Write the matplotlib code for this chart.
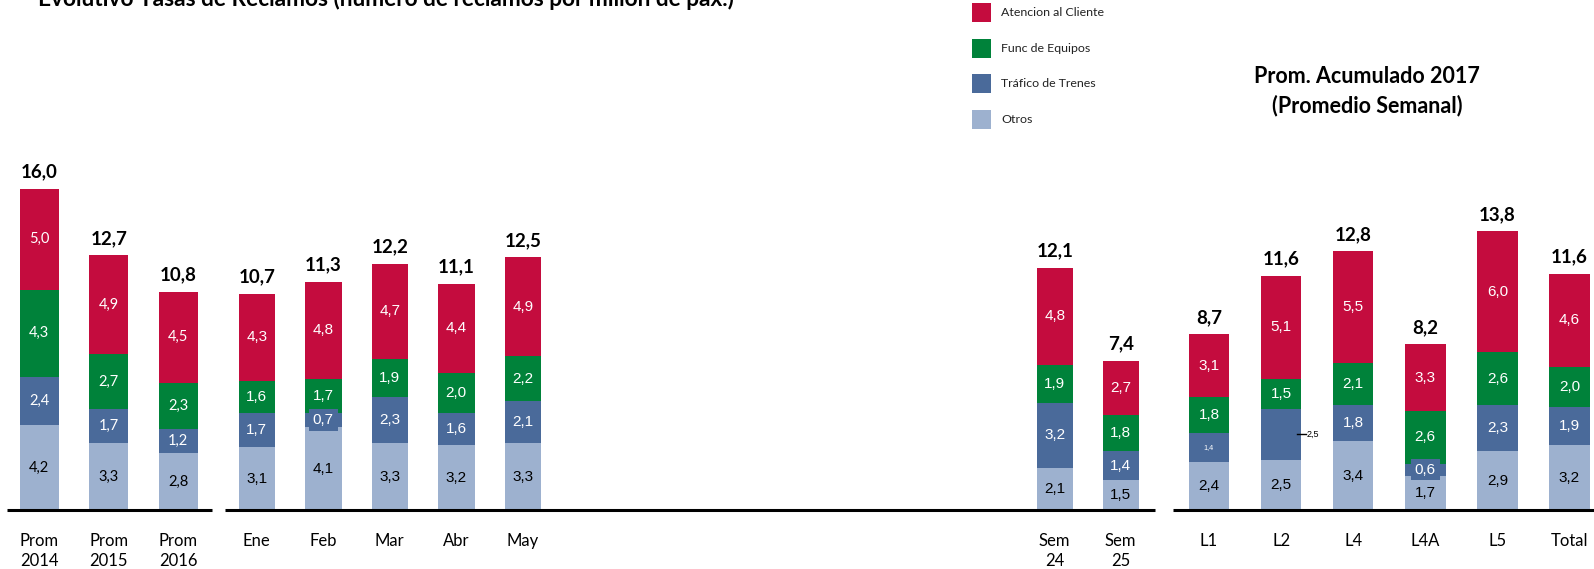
import matplotlib
matplotlib.use("Agg")
import matplotlib.pyplot as plt
from matplotlib.patches import Rectangle

# ---------------- data ----------------
categories = ["Prom\n2014", "Prom\n2015", "Prom\n2016", "Ene", "Feb", "Mar", "Abr", "May",
              "Sem\n24", "Sem\n25", "L1", "L2", "L4", "L4A", "L5", "Total"]
otros = [4.2, 3.3, 2.8, 3.1, 4.1, 3.3, 3.2, 3.3, 2.1, 1.5, 2.4, 2.5, 3.4, 1.7, 2.9, 3.2]
trafico = [2.4, 1.7, 1.2, 1.7, 0.7, 2.3, 1.6, 2.1, 3.2, 1.4, 1.4, 2.5, 1.8, 0.6, 2.3, 1.9]
func_equipos = [4.3, 2.7, 2.3, 1.6, 1.7, 1.9, 2.0, 2.2, 1.9, 1.8, 1.8, 1.5, 2.1, 2.6, 2.6, 2.0]
atencion = [5.0, 4.9, 4.5, 4.3, 4.8, 4.7, 4.4, 4.9, 4.8, 2.7, 3.1, 5.1, 5.5, 3.3, 6.0, 4.6]
totals = [16.0, 12.7, 10.8, 10.7, 11.3, 12.2, 11.1, 12.5, 12.1, 7.4, 8.7, 11.6, 12.8, 8.2, 13.8, 11.6]
series_names = ["Atencion al Cliente", "Func de Equipos", "Tráfico de Trenes", "Otros"]
title = "Evolutivo Tasas de Reclamos (número de reclamos por millón de pax.)"
subtitle = "Prom. Acumulado 2017\n(Promedio Semanal)"

# ---------------- layout ----------------
W, H = 1594, 569
BASE = 510.0      # pixel row of y=0
SCALE = 20.2      # pixels per unit
C_RED = "#C40C3E"
C_GREEN = "#00823A"
C_BLUE = "#4A6A9A"
C_LIGHT = "#9DB1CF"

# groups: (first index, count, first center px, spacing px, bar width px)
groups = [(0, 3, 39.3, 69.5, 39), (3, 5, 256.8, 66.5, 36.5),
          (8, 2, 1054.7, 66.0, 36), (10, 6, 1209.0, 72.1, 40.5)]
xpos = [0.0] * len(categories)
widths = [0.0] * len(categories)
for start, n, x0, dx, w in groups:
    for k in range(n):
        xpos[start + k] = x0 + k * dx
        widths[start + k] = w

def Y(yp):
    return (BASE - yp) / SCALE

fig = plt.figure(figsize=(W / 100, H / 100), dpi=100)
ax = fig.add_axes([0, 0, 1, 1])
ax.set_xlim(0, W)
ax.set_ylim(Y(H), Y(0))
ax.axis("off")

stack = [otros, trafico, func_equipos, atencion]
colors = [C_LIGHT, C_BLUE, C_GREEN, C_RED]
txtcol = ["black", "white", "white", "white"]

bottoms = [0.0] * len(categories)
for si, (vals, col) in enumerate(zip(stack, colors)):
    ax.bar(xpos, vals, width=widths, bottom=bottoms, color=col, linewidth=0, zorder=2)
    for i, v in enumerate(vals):
        yc = bottoms[i] + v / 2
        lab = f"{v:.1f}".replace(".", ",")
        fam = "Lato" if i < 3 else "Liberation Sans"
        fs = 10.5 if i < 3 else 11
        kw = {}
        if si == 1 and i in (4, 13):
            kw["bbox"] = dict(boxstyle="square,pad=0.25", fc=C_BLUE, ec="none")
        if si == 1 and i == 10:
            fs = 5.2
        if si == 1 and i == 11:
            xr = xpos[i] + widths[i] / 2
            ax.plot([xr - 4.5, xr + 4.5], [yc, yc], color="black", lw=1.0, zorder=4)
            ax.text(xr + 5.5, yc, lab, ha="left", va="center", fontsize=6.5,
                    family="Liberation Sans", color="black", zorder=5)
            continue
        ax.text(xpos[i], yc, lab, ha="center", va="center", fontsize=fs, family=fam,
                color=txtcol[si], zorder=5, **kw)
    bottoms = [b + v for b, v in zip(bottoms, vals)]

# totals
for i, t in enumerate(totals):
    ax.annotate(f"{t:.1f}".replace(".", ","), (xpos[i], bottoms[i]), xytext=(0, 8),
                textcoords="offset points", ha="center", va="baseline",
                fontsize=13.5, fontweight="bold", family="Lato", color="black")

# baseline segments
for x0, x1 in [(7, 212), (225, 1155), (1173, W)]:
    ax.plot([x0, x1], [0, 0], color="black", lw=2.2, solid_capstyle="butt", zorder=3)

# category labels
for i, c in enumerate(categories):
    for j, line in enumerate(c.split("\n")):
        ax.text(xpos[i], Y(546 + 19.5 * j), line, ha="center", va="baseline",
                fontsize=12, family="Lato", color="black")

# legend (manual)
leg_rows = [12.5, 48.3, 83.3, 119.5]
for name, col, yr in zip(series_names, [C_RED, C_GREEN, C_BLUE, C_LIGHT], leg_rows):
    ax.add_patch(Rectangle((972, Y(yr + 9.3)), 19, 18.6 / SCALE, color=col, lw=0,
                           clip_on=False))
    ax.text(1001, Y(yr), name, ha="left", va="center", fontsize=8.9, family="Lato",
            color="#222222")

# right block title
l1, l2 = subtitle.split("\n")
ax.text(1367, Y(83), l1, ha="center", va="baseline", fontsize=15.5, fontweight="bold",
        family="Lato", color="black")
ax.text(1367, Y(112), l2, ha="center", va="baseline", fontsize=15.5, fontweight="bold",
        family="Lato", color="black")

# cut-off title
tt = ax.text(38, Y(6.5), title, ha="left", va="baseline", fontsize=14, fontweight="bold",
             family="Lato", color="black", clip_on=False)
fig.canvas.draw()
wt = tt.get_window_extent().width
tt.set_fontsize(14 * 700 / wt)

fig.savefig("out.png", dpi=100)
